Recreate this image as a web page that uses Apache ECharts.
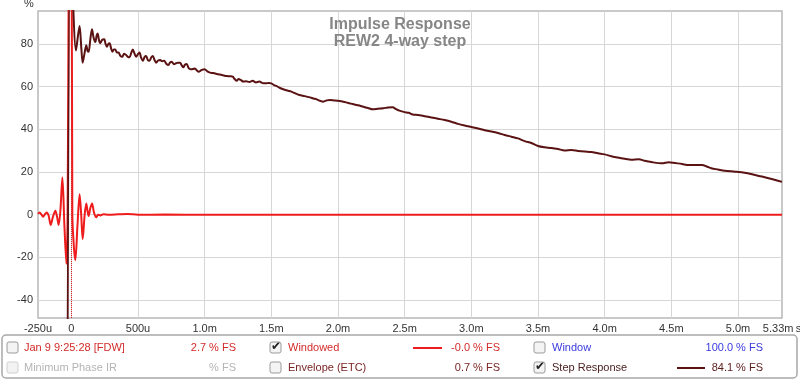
<!DOCTYPE html>
<html><head><meta charset="utf-8">
<script src="https://cdn.jsdelivr.net/npm/echarts@6/dist/echarts.min.js"></script>
<style>html,body{margin:0;padding:0;background:#fff}#c{width:800px;height:381px}</style>
</head><body><div id="c"></div>
<script>
// ---- data (time in ms, values in %) ----
const impulseT = [-0.25,-0.238,-0.225,-0.212,-0.198,-0.185,-0.17,-0.155,-0.138,-0.12,-0.107,-0.095,-0.082,-0.067,-0.052,-0.037,-0.028,-0.005,0.0075,0.019,0.03,0.046,0.062,0.074,0.085,0.1,0.112,0.122,0.13,0.142,0.155,0.17,0.187,0.2,0.217,0.24,0.28,0.35,0.42,0.5,0.7,1.0,2.0,3.0,4.0,5.33];
const impulseV = [0.4,1.1,0.2,-0.9,0.2,1.1,-0.5,-4.8,-1,1.9,-1,-4.8,2,17.5,-5,-23,0,300,0,-15,-21.3,-5,9.6,0,-11.5,0,5.3,1.5,-0.6,3,5.3,1,-1.2,0,-0.3,0.2,0,0.2,0.4,0,0.1,0,0,0,0,0];

const stepT = [-0.035,-0.008,0.004,0.035,0.05,0.062,0.075,0.085,0.1,0.112,0.122,0.13,0.142,0.155,0.167,0.18,0.19,0.197,0.207,0.217,0.232,0.247,0.257,0.267,0.277,0.287,0.298,0.309,0.319,0.329,0.342,0.354,0.368,0.381,0.396,0.411,0.424,0.436,0.45,0.461,0.474,0.486,0.5,0.511,0.524,0.536,0.55,0.561,0.574,0.586,0.6,0.611,0.624,0.636,0.651,0.666,0.681,0.696,0.712,0.728,0.741,0.753,0.77,0.785,0.8,0.815,0.828,0.84,0.852,0.865,0.88,0.895,0.912,0.927,0.942,0.955,0.975,1.0,1.02,1.04,1.065,1.09,1.13,1.165,1.19,1.21,1.225,1.24,1.255,1.27,1.29,1.31,1.335,1.36,1.385,1.41,1.435,1.46,1.48,1.5,1.52,1.54,1.565,1.59,1.62,1.65,1.68,1.71,1.75,1.79,1.815,1.84,1.865,1.89,1.915,1.94,1.97,2.0,2.04,2.075,2.11,2.15,2.19,2.225,2.26,2.3,2.34,2.375,2.41,2.435,2.46,2.5,2.53,2.56,2.6,2.65,2.7,2.75,2.8,2.85,2.9,2.95,3.0,3.05,3.1,3.15,3.2,3.25,3.3,3.35,3.4,3.45,3.5,3.55,3.6,3.65,3.7,3.75,3.8,3.85,3.9,3.95,4.0,4.05,4.1,4.15,4.2,4.256,4.3,4.35,4.43,4.48,4.53,4.58,4.63,4.68,4.73,4.77,4.8,4.85,4.9,4.98,5.05,5.13,5.18,5.23,5.28,5.33];
const stepV = [-200,140,115,77,84,88.5,78,71.3,76,79.5,76.8,76.4,82,87,83,81,84,85,82,80.4,82,82.2,80,78.8,80,80.4,78,76.4,77.5,77.5,76,76,74.5,74,75.5,74.9,74,73.8,76,77.5,75.5,74.1,75.3,76,73.5,72.2,74,74.4,72.5,72.2,73.8,74.4,72.5,71.3,72.3,72.5,72,72.2,70.8,70.2,71.4,71.7,70.5,71,71.3,71.3,70,69.1,70.3,70.7,68.7,68.2,68.3,68.6,67.6,67,67.8,68.2,67.2,66.6,66.4,66,65.5,65,64.9,64.7,63.6,62.8,63.6,63.2,62.4,62.6,62.2,62.8,62,62.4,61.7,61.6,61.8,61.6,60.8,60.3,59.4,58.8,58.2,57.7,56.9,56.1,55.6,55,54.5,54.1,53.4,53,53.6,53.8,53.6,53.4,53,52.4,51.9,51.3,50.6,50,49.4,49.7,49.9,50.3,50.4,49.5,48.8,48.1,47.8,47,46.8,46.2,45.6,45,44.4,43.6,42.6,41.8,41.1,40.4,39.6,39,38.3,37.4,36.6,35.8,34.5,33.6,32.2,31.6,31.3,30.8,30.1,30.3,29.9,29.6,29.4,28.8,28.3,27.4,26.8,26.2,25.8,26,25.3,24.7,24.1,24.6,24.2,23.8,23.3,23.3,23.3,22.5,21.8,21.2,20.6,20.2,19.7,18.6,17.9,17.1,16.3,15.4];

const xLabelValues = [-0.25,0,0.5,1,1.5,2,2.5,3,3.5,4,4.5,5,5.33];
const xGridValues = [0,0.5,1,1.5,2,2.5,3,3.5,4,4.5,5];
const yTickValues = [-40,-20,0,20,40,60,80];
const titleText = 'Impulse Response\nREW2 4-way step';

const zip = (a, b) => a.map((v, i) => [v, b[i]]);

function fmtX(v) {
  if (Math.abs(v - 5.33) < 1e-6) return '5.33m\u2009s';
  if (v === 0) return '0';
  if (Math.abs(v) < 1) return Math.round(v * 1000) + 'u';
  return v.toFixed(1) + 'm';
}

const FONT = '"Liberation Sans", Arial, sans-serif';
const f11 = '11px ' + FONT;

function checkbox(x, y, checked, disabled) {
  const els = [{
    type: 'rect', shape: { x: x, y: y, width: 11, height: 11, r: 2 },
    style: { fill: disabled ? '#f2f2f2' : '#f4f4f4', stroke: disabled ? '#d0d0d0' : '#9a9a9a', lineWidth: 1 }
  }];
  if (checked) els.push({
    type: 'text', x: x + 6, y: y + 5,
    style: { text: '✔', fill: '#222', font: 'bold 12px "DejaVu Sans", sans-serif', align: 'center', verticalAlign: 'middle' }
  });
  return els;
}
function txt(x, y, s, color, align) {
  return { type: 'text', x: x, y: y, style: { text: s, fill: color, font: f11, align: align || 'left', verticalAlign: 'middle' } };
}

const r1 = 348, r2 = 368;
const graphics = [
  { type: 'rect', shape: { x: 2, y: 335, width: 795, height: 43, r: 4 }, style: { fill: '#fff', stroke: '#a8a8a8', lineWidth: 1.5 } },
  ...checkbox(7, r1 - 6, false, false),
  txt(24, r1, 'Jan 9 9:25:28 [FDW]', '#d42a2a'),
  txt(236, r1, '2.7 % FS', '#d42a2a', 'right'),
  ...checkbox(270, r1 - 6, true, false),
  txt(288, r1, 'Windowed', '#d42a2a'),
  { type: 'line', shape: { x1: 413, y1: r1, x2: 442, y2: r1 }, style: { stroke: '#ee1c1c', lineWidth: 2 } },
  txt(500, r1, '-0.0 % FS', '#d42a2a', 'right'),
  ...checkbox(534, r1 - 6, false, false),
  txt(552, r1, 'Window', '#3a3ae0'),
  txt(763, r1, '100.0 % FS', '#3a3ae0', 'right'),
  ...checkbox(7, r2 - 6, false, true),
  txt(24, r2, 'Minimum Phase IR', '#b4b4b4'),
  txt(236, r2, '% FS', '#b4b4b4', 'right'),
  ...checkbox(270, r2 - 6, false, false),
  txt(288, r2, 'Envelope (ETC)', '#7a2424'),
  txt(500, r2, '0.7 % FS', '#7a2424', 'right'),
  ...checkbox(534, r2 - 6, true, false),
  txt(552, r2, 'Step Response', '#4a2020'),
  { type: 'line', shape: { x1: 677, y1: r2, x2: 705, y2: r2 }, style: { stroke: '#5a1212', lineWidth: 2 } },
  txt(763, r2, '84.1 % FS', '#5a1a1a', 'right'),
  { type: 'text', x: 29, y: 4, style: { text: '%', fill: '#333', font: f11, align: 'center', verticalAlign: 'middle' } }
];

const chart = echarts.init(document.getElementById('c'), null, { renderer: 'canvas' });
chart.setOption({
  animation: false,
  backgroundColor: '#fff',
  title: {
    text: titleText, left: 'center', top: 11,
    textStyle: { fontSize: 16, fontWeight: 'bold', color: '#868686', lineHeight: 17, fontFamily: FONT }
  },
  grid: { left: 38, right: 18, top: 11, bottom: 63, outerBoundsMode: 'none', containLabel: false,
    show: true, borderColor: '#b8b8b8', borderWidth: 1.5, backgroundColor: 'transparent' },
  xAxis: {
    type: 'value', min: -0.25, max: 5.33,
    axisLine: { show: false }, axisTick: { show: false, customValues: xGridValues },
    axisLabel: { customValues: xLabelValues, formatter: fmtX, color: '#333', fontSize: 11, fontFamily: FONT, margin: 5 },
    splitLine: { show: true, lineStyle: { color: '#d6d6d6', width: 1 } }
  },
  yAxis: {
    type: 'value', min: -48.4, max: 95.5,
    axisLine: { show: false }, axisTick: { show: false, customValues: yTickValues },
    axisLabel: { customValues: yTickValues, color: '#333', fontSize: 11, fontFamily: FONT, margin: 5 },
    splitLine: { show: true, lineStyle: { color: '#d6d6d6', width: 1 } }
  },
  series: [
    {
      type: 'line', data: zip(impulseT, impulseV), showSymbol: false, smooth: 0.3, clip: true, z: 2,
      lineStyle: { color: '#ee1c1c', width: 2 },
      markLine: { silent: true, symbol: 'none', label: { show: false },
        lineStyle: { color: '#e02020', type: 'dotted', width: 1 }, data: [{ xAxis: 0 }] }
    },
    {
      type: 'line', data: zip(stepT, stepV), showSymbol: false, smooth: 0.3, clip: true, z: 3,
      lineStyle: { color: '#5a1212', width: 2 }
    }
  ],
  graphic: { elements: graphics }
});
</script></body></html>
